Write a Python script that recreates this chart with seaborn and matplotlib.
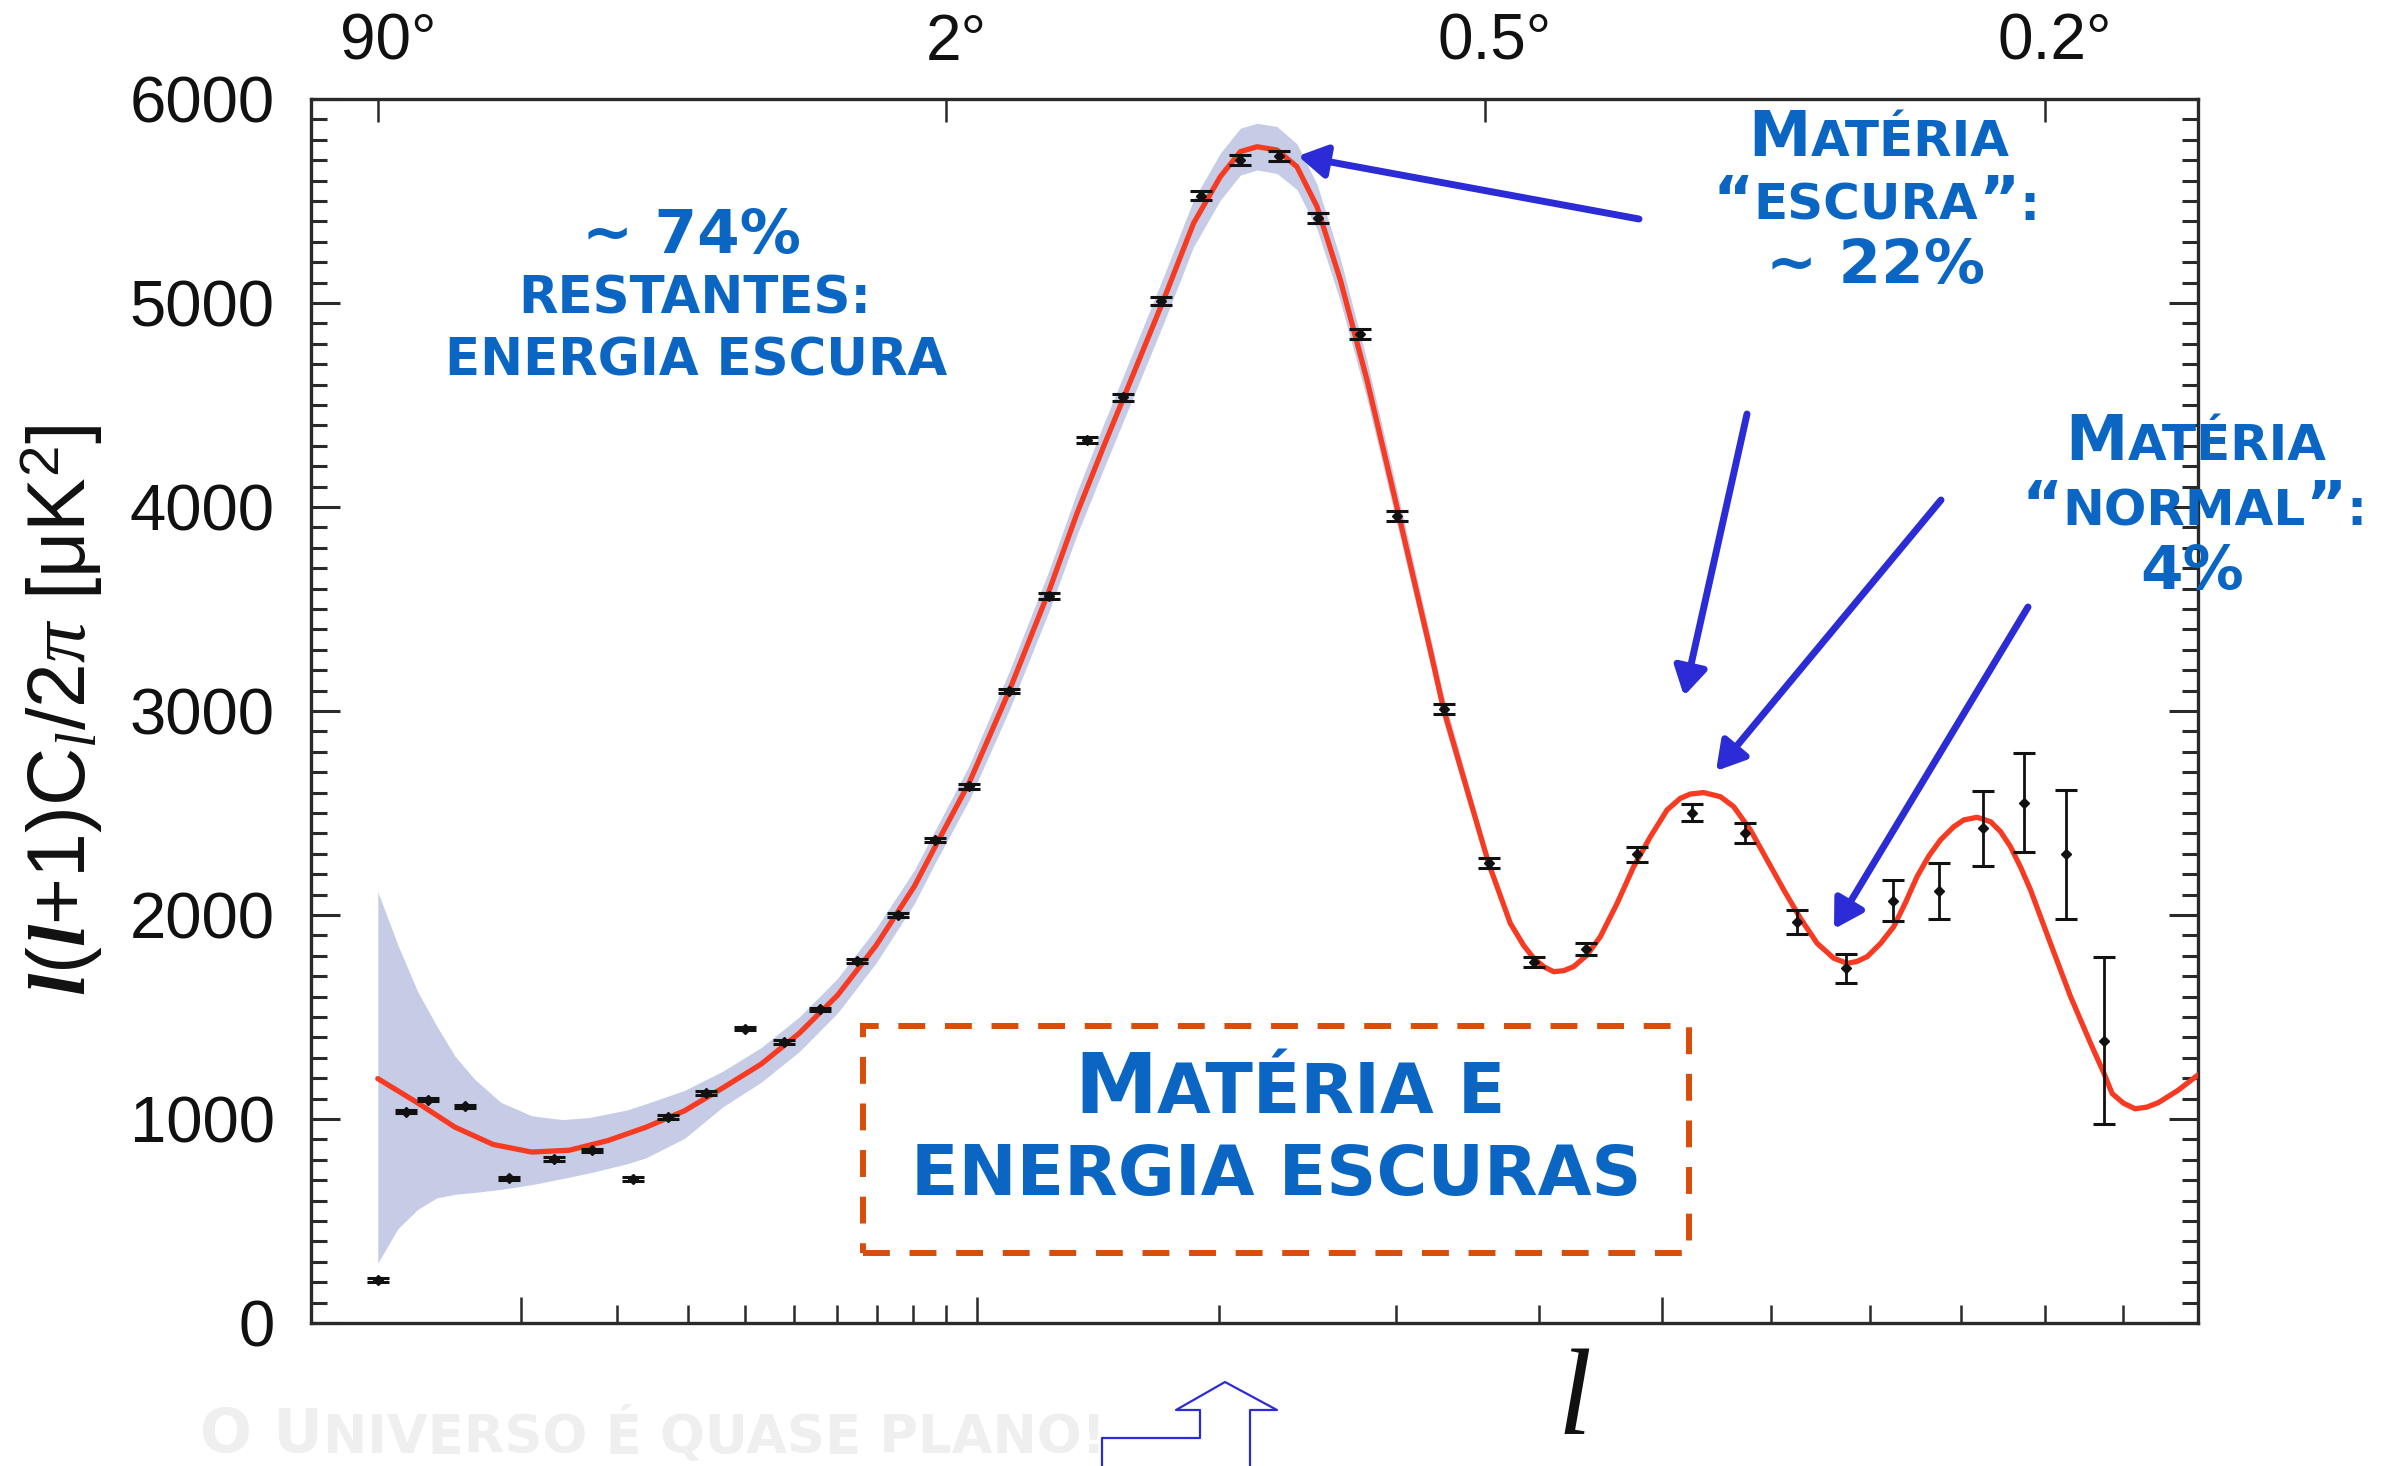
import numpy as np
import matplotlib
matplotlib.use("Agg")
import matplotlib.pyplot as plt
import matplotlib.transforms as mtransforms
import seaborn as sns
from matplotlib.patches import Rectangle, FancyArrowPatch
from matplotlib.lines import Line2D
from matplotlib.ticker import FixedLocator, NullFormatter, NullLocator

W, H, DPI = 2408, 1466, 100

# ---------------- data ----------------
# binned TT power spectrum points: multipole, l(l+1)C_l/2pi [uK^2], 1-sigma error
ell = [2, 3, 4, 6, 9, 13, 17, 22, 27, 33, 40, 48, 56, 65, 76, 86.5, 97.4, 110.9,
       125.4, 140.2, 155.2, 172.2, 191.0, 210.2, 231.2, 253.0, 277.6, 300.9, 331.6,
       362.9, 396.5, 436.6, 478.5, 526.3, 575.2, 625.2, 674.9, 724.6, 775.1, 825.3,
       874.5, 925.9, 975.5]
power = [211, 1035, 1095, 1063, 710, 804, 847, 706, 1010, 1128, 1442, 1378, 1538,
         1776, 2001, 2367, 2632, 3098, 3564, 4328, 4538, 5011, 5526, 5701, 5721, 5415,
         4848, 3957, 3008, 2253, 1771, 1833, 2297, 2501, 2403, 1967, 1739, 2070, 2118,
         2425, 2551, 2297, 1384]
power_err = [8, 8, 8, 8, 8, 8, 8, 8, 8, 8, 8, 8, 8, 10, 10, 10, 12, 12, 14, 16, 18,
             20, 22, 24, 24, 24, 24, 24, 24, 25, 25, 30, 35, 41, 49, 59, 72, 100, 136,
             185, 241, 316, 408]

# best-fit model curve
model_l = [2, 3.46, 5.39, 7.85, 10.9, 14.5, 18.8, 23.8, 29.5, 36.0, 43.2, 51.2, 60.1,
           69.9, 80.5, 86.5, 97.4, 110.9, 125.4, 136.2, 147.0, 159.8, 173.2, 187.3,
           200.4, 210.6, 219.3, 230.0, 241.0, 252.4, 266.0, 282.1, 298.8, 322.6, 331.6,
           347.7, 362.9, 378.6, 388.5, 396.0, 403.5, 411.2, 419.0, 426.8, 437.4, 448.1,
           461.8, 475.6, 489.8, 504.2, 515.8, 524.7, 536.7, 551.9, 564.2, 579.9, 595.8,
           612.0, 628.4, 645.2, 662.1, 675.9, 686.0, 696.9, 711.0, 725.3, 738.0, 750.8,
           764.0, 777.0, 792.1, 803.6, 819.0, 834.8, 846.5, 858.4, 870.5, 882.6, 907.1,
           932.2, 957.6, 974.8, 985.4, 1000.0, 1015.6, 1031.0, 1046.6, 1073.6, 1101]
model_power = [1198, 1082, 960, 875, 838, 847, 894, 960, 1040, 1153, 1269, 1420, 1607,
               1851, 2140, 2330, 2650, 3100, 3590, 3969, 4296, 4655, 5015, 5391, 5619,
               5742, 5766, 5750, 5668, 5472, 5113, 4623, 4067, 3299, 3008, 2613, 2253,
               1959, 1850, 1788, 1747, 1722, 1727, 1747, 1804, 1894, 2057, 2237, 2384,
               2515, 2572, 2593, 2600, 2580, 2531, 2417, 2270, 2123, 1984, 1861, 1788,
               1763, 1772, 1796, 1860, 1943, 2060, 2188, 2290, 2368, 2433, 2466, 2479,
               2457, 2409, 2335, 2235, 2123, 1861, 1600, 1371, 1224, 1125, 1078, 1050,
               1058, 1080, 1141, 1216]

# cosmic-variance band around the model
band_l = [2, 2.7, 3.5, 4.4, 5.4, 6.6, 8.4, 10.9, 13.8, 16.6, 21.2, 23.8, 29.5, 36.0,
          43.2, 51.2, 60.1, 69.9, 80.5, 86.5, 97.4, 110.9, 125.4, 136.2, 147.0, 159.8,
          173.2, 187.3, 200.4, 210.6, 219.3, 230.0, 241.0, 252.4, 266.0, 282.1, 298.8,
          322.6, 331.6, 347.7, 362.9, 378.6, 396.0]
band_hi = [2114, 1851, 1626, 1457, 1307, 1194, 1082, 1016, 997, 1007, 1044, 1075, 1140,
           1235, 1350, 1500, 1690, 1935, 2220, 2410, 2735, 3195, 3690, 4074, 4406, 4767,
           5130, 5506, 5734, 5857, 5881, 5865, 5780, 5582, 5218, 4718, 4152, 3369, 3073,
           2663, 2288, 1979, 1796]
band_lo = [294, 463, 556, 613, 631, 640, 655, 678, 708, 735, 780, 810, 905, 1060, 1180,
           1330, 1520, 1765, 2055, 2250, 2565, 3005, 3490, 3864, 4186, 4543, 4900, 5276,
           5504, 5627, 5652, 5635, 5556, 5362, 5008, 4528, 3982, 3229, 2943, 2563, 2218,
           1939, 1780]

# angular scale axis
angle_l = [2, 90, 360, 900]
angle_labels = ["90°", "2°", "0.5°", "0.2°"]

y_major = list(range(0, 6001, 1000))
y_minor = list(range(0, 6001, 100))
x_major = [10, 100, 500]
x_minor = [20, 30, 40, 50, 60, 70, 80, 90, 200, 300, 400, 600, 700, 800, 900, 1000]

# ---------------- style ----------------
sns.set_theme(style="white")
plt.rcParams["font.family"] = ["Liberation Sans", "DejaVu Sans"]
plt.rcParams["mathtext.fontset"] = "custom"
plt.rcParams["mathtext.rm"] = "Liberation Sans"
plt.rcParams["mathtext.it"] = "Liberation Serif:italic"
plt.rcParams["mathtext.bf"] = "Liberation Serif:bold:italic"

BLUE_TXT = "#0a66c2"
ARROW_BLUE = "#2c2cd6"
AX_COL = "#2a2a2a"

fig = plt.figure(figsize=(W / DPI, H / DPI), dpi=DPI)
fig.patch.set_facecolor("white")


def fxy(x, y):
    return (x / W, 1 - y / H)


L, R, T, B = 310.7, 2198, 99, 1323
ax = fig.add_axes([L / W, 1 - B / H, (R - L) / W, (B - T) / H])


def fwd(x):
    return np.power(np.clip(x, 0, None), 0.4)


def inv(x):
    return np.power(np.clip(x, 0, None), 2.5)


ax.set_xscale("function", functions=(fwd, inv))
ax.set_xlim(0.505, 1101)
ax.set_ylim(0, 6000)

ax.fill_between(band_l, band_lo, band_hi, color="#c6cce6", lw=0, zorder=1)
sns.lineplot(x=model_l, y=model_power, ax=ax, color="#f73b22", lw=3.8,
             estimator=None, sort=False, zorder=3)
ax.errorbar(ell, power, yerr=power_err, fmt="D", ms=5.5, color="#111111",
            ecolor="#111111", elinewidth=2.0, capsize=8, capthick=2.2, zorder=4)

# axes frame and ticks
for sp in ax.spines.values():
    sp.set_color(AX_COL)
    sp.set_linewidth(2.4)

ax.xaxis.set_major_locator(FixedLocator(x_major))
ax.xaxis.set_minor_locator(FixedLocator(x_minor))
ax.xaxis.set_major_formatter(NullFormatter())
ax.xaxis.set_minor_formatter(NullFormatter())
ax.tick_params(axis="x", which="major", direction="in", length=19, width=1.8,
               color=AX_COL, bottom=True, top=False, labelbottom=False)
ax.tick_params(axis="x", which="minor", direction="in", length=13, width=1.8,
               color=AX_COL, bottom=True, top=False)

ax.yaxis.set_major_locator(FixedLocator(y_major))
ax.yaxis.set_minor_locator(FixedLocator(y_minor))
ax.set_yticklabels([str(v) for v in y_major])
ax.tick_params(axis="y", which="major", direction="in", length=21, width=2.2,
               color=AX_COL, left=True, right=True, labelsize=47, pad=26,
               labelcolor="#111111")
ax.tick_params(axis="y", which="minor", direction="in", length=11.5, width=2.2,
               color=AX_COL, left=True, right=True)
ax.set_xlabel("")
ax.set_ylabel("")

# angular scale on top
axt = ax.twiny()
axt.set_xscale("function", functions=(fwd, inv))
axt.set_xlim(ax.get_xlim())
axt.xaxis.set_major_locator(FixedLocator(angle_l))
axt.xaxis.set_minor_locator(NullLocator())
axt.set_xticklabels(angle_labels)
axt.tick_params(axis="x", direction="in", length=16.5, width=1.8, color=AX_COL,
                top=True, bottom=False, labeltop=True, labelbottom=False,
                labelsize=46, pad=19, labelcolor="#111111")
shift = mtransforms.ScaledTranslation(10 / DPI, 0, fig.dpi_scale_trans)
for lab in axt.get_xticklabels():
    lab.set_transform(lab.get_transform() + shift)
for sp in axt.spines.values():
    sp.set_visible(False)
axt.set_xlabel("")

# axis titles
fig.text(*fxy(62, 710), r"$\mathbf{l}$($\mathbf{l}$+1)C$_{l}$/2$\pi$ [μK$^{2}$]",
         rotation=90, ha="center", va="center", fontsize=58, color="#111111",
         family="Liberation Sans")
fig.text(*fxy(1574, 1404), "l", ha="center", va="center", fontsize=88,
         family="Liberation Serif", style="italic", color="#111111")

# ---------------- annotations ----------------
renderer = fig.canvas.get_renderer()


def runs_text(cx, base_y, runs, color=BLUE_TXT, family="DejaVu Sans",
              weight="bold", zorder=6):
    """Draw consecutive text runs of different sizes centred on cx, sharing a baseline."""
    items = []
    for s, size in runs:
        t = fig.text(0, 0, s, fontsize=size, family=family, weight=weight,
                     color=color, ha="left", va="baseline", zorder=zorder)
        items.append((t, t.get_window_extent(renderer).width))
    total = sum(w for _, w in items)
    x0 = cx - total / 2
    for t, w in items:
        t.set_position(fxy(x0, base_y))
        x0 += w


# left block
runs_text(692, 253, [("~ 74%", 44)])
runs_text(695, 313, [("RESTANTES:", 37)])
runs_text(696, 375, [("ENERGIA ESCURA", 37)])

# dark matter block
runs_text(1879, 156, [("M", 45), ("ATÉRIA", 36)])
runs_text(1876, 220, [("“", 45), ("ESCURA", 36), ("”", 45), (":", 36)])
runs_text(1876, 283, [("~ 22%", 44)])

# ordinary matter block
runs_text(2196, 460, [("M", 45), ("ATÉRIA", 36)])
runs_text(2194, 525, [("“", 45), ("NORMAL", 36), ("”", 45), (":", 36)])
runs_text(2192, 589, [("4%", 44)])

# dashed box with caption
fig.add_artist(Rectangle(fxy(863, 1253), (1689 - 863) / W, (1253 - 1026) / H,
                         transform=fig.transFigure, fill=False, ec="#d94d0b",
                         lw=4.3, ls=(0, (4.5, 3.3)), zorder=5))
runs_text(1290, 1113, [("M", 60), ("ATÉRIA E", 50)])
runs_text(1276, 1195, [("ENERGIA ESCURAS", 50)])

# pointer arrows
arrows = [((1639, 219), (1298, 156)),
          ((1747, 414), (1684, 696)),
          ((1941, 500), (1716, 771)),
          ((2028, 607), (1834, 929))]
for a, b in arrows:
    fig.add_artist(FancyArrowPatch(fxy(*a), fxy(*b), transform=fig.transFigure,
                                   arrowstyle="-|>,head_length=1.7,head_width=1.0",
                                   mutation_scale=10, lw=5, color=ARROW_BLUE,
                                   shrinkA=0, shrinkB=0, zorder=7))

# faint footer line and outlined bent arrow
runs_text(653, 1452, [("O U", 44), ("NIVERSO É QUASE PLANO!", 38)], color="#efefef",
          zorder=2)
bent = [(1102, 1470), (1102, 1438), (1200, 1438), (1200, 1410), (1176, 1410),
        (1225, 1382), (1277, 1410), (1250, 1410), (1250, 1470)]
bx = [p[0] / W for p in bent]
by = [1 - p[1] / H for p in bent]
fig.add_artist(Line2D(bx, by, transform=fig.transFigure, color=ARROW_BLUE, lw=1.6,
                      zorder=7))

fig.savefig("out.png", dpi=DPI, facecolor="white")
